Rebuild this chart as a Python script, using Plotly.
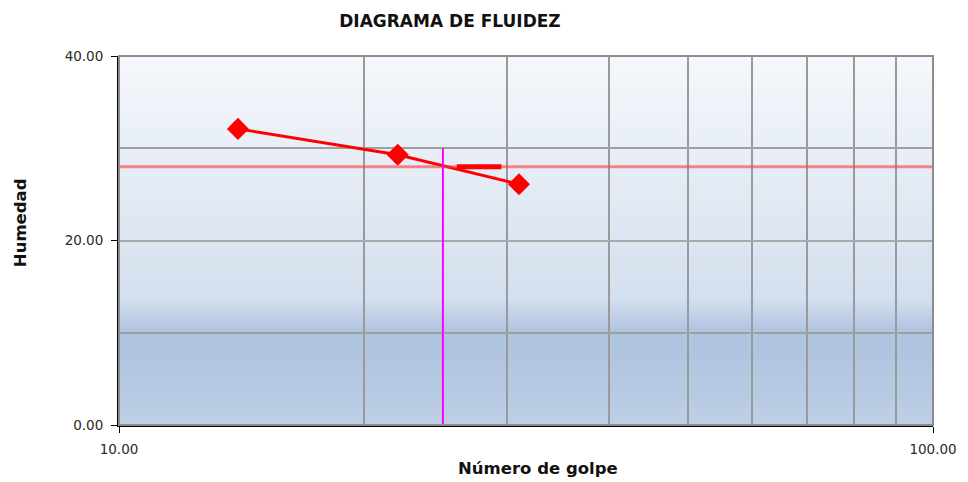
import plotly.graph_objects as go

# Ensayo de límite líquido: número de golpes vs. contenido de humedad
golpes = [14, 22, 31]
humedad = [32.1, 29.3, 26.1]

golpes_ref = 25          # golpes normalizados
humedad_ll = 28.0        # límite líquido leído a 25 golpes
tope_ref = 30.0          # altura de la línea de referencia vertical
tramo_ll = [26.0, 29.5]  # tramo resaltado sobre la línea del límite líquido

x_rango = [10, 100]
y_rango = [0, 40]
x_ticks = [10, 100]
x_ticktext = ["10.00", "100.00"]
y_ticks = [0, 20, 40]
y_ticktext = ["0.00", "20.00", "40.00"]
x_grid_menor = [20, 30, 40, 50, 60, 70, 80, 90]
y_grid_menor = [10, 30]

fig = go.Figure()

# Curva de fluidez
fig.add_trace(go.Scatter(
    x=golpes, y=humedad, mode="lines+markers",
    line=dict(color="#ff0000", width=3),
    marker=dict(symbol="diamond", size=17, color="#ff0000"),
    showlegend=False, hoverinfo="x+y",
))

# Línea horizontal del límite líquido
fig.add_trace(go.Scatter(
    x=x_rango, y=[humedad_ll, humedad_ll], mode="lines",
    line=dict(color="rgba(255,60,60,0.6)", width=3),
    showlegend=False, hoverinfo="skip",
))

# Tramo resaltado
fig.add_trace(go.Scatter(
    x=tramo_ll, y=[humedad_ll, humedad_ll], mode="lines",
    line=dict(color="#ff0000", width=5),
    showlegend=False, hoverinfo="skip",
))

# Referencia vertical a 25 golpes
fig.add_trace(go.Scatter(
    x=[golpes_ref, golpes_ref], y=[y_rango[0], tope_ref], mode="lines",
    line=dict(color="#ff00ff", width=2),
    showlegend=False, hoverinfo="skip",
))

# Fondo degradado del área de trazado
paradas = [
    (0.00, (0xbe, 0xcf, 0xe6)),
    (0.22, (0xae, 0xc3, 0xdf)),
    (0.26, (0xb0, 0xc5, 0xe0)),
    (0.34, (0xd3, 0xdf, 0xee)),
    (0.50, (0xdc, 0xe5, 0xf1)),
    (1.00, (0xf5, 0xf8, 0xfc)),
]


def color_en(f):
    for (f0, c0), (f1, c1) in zip(paradas[:-1], paradas[1:]):
        if f0 <= f <= f1:
            t = (f - f0) / (f1 - f0) if f1 > f0 else 0
            return "rgb(%d,%d,%d)" % tuple(round(a + (b - a) * t) for a, b in zip(c0, c1))
    return "rgb(%d,%d,%d)" % paradas[-1][1]


n = 80
shapes = []
for i in range(n):
    y0 = i / n
    y1 = (i + 1) / n
    shapes.append(dict(
        type="rect", xref="x domain", yref="y domain",
        x0=0, x1=1, y0=y0, y1=y1 + 0.002,
        fillcolor=color_en((y0 + y1) / 2), line=dict(width=0), layer="below",
    ))

# Marco gris superior y derecho
shapes.append(dict(
    type="rect", xref="x domain", yref="y domain", x0=0, x1=1, y0=0, y1=1,
    line=dict(color="#8c8c8c", width=2), fillcolor="rgba(0,0,0,0)", layer="above",
))

fuente_ticks = dict(family="DejaVu Sans, Verdana, sans-serif", size=13.5, color="#2a2a2a")
fuente_titulo = dict(family="DejaVu Sans, Verdana, sans-serif", size=16.5, color="#111111")

fig.update_layout(
    width=968, height=482,
    margin=dict(l=119, r=35, t=56, b=57),
    paper_bgcolor="#ffffff",
    plot_bgcolor="#e6edf6",
    shapes=shapes,
    title=dict(
        text="<b>DIAGRAMA DE FLUIDEZ</b>",
        x=0.4066, xanchor="center", xref="paper", y=0.956, yanchor="middle",
        font=dict(family="DejaVu Sans, Verdana, sans-serif", size=17, color="#111111"),
    ),
    xaxis=dict(
        type="log", range=[1, 2],
        tickvals=x_ticks, ticktext=x_ticktext,
        tickfont=fuente_ticks, ticks="outside", ticklen=6, tickcolor="#000000",
        ticklabelstandoff=5,
        showline=True, linecolor="#000000", linewidth=2,
        showgrid=False, zeroline=False,
        minor=dict(tickvals=x_grid_menor, showgrid=True, gridcolor="#9a9a9a", gridwidth=2, ticks=""),
    ),
    yaxis=dict(
        range=y_rango,
        tickvals=y_ticks, ticktext=y_ticktext,
        tickfont=fuente_ticks, ticks="outside", ticklen=6, tickcolor="#000000",
        ticklabelstandoff=5,
        showline=True, linecolor="#000000", linewidth=2,
        showgrid=True, gridcolor="#a8a8a8", gridwidth=1.5, zeroline=False,
        minor=dict(tickvals=y_grid_menor, showgrid=True, gridcolor="#a0a0a0", gridwidth=2, ticks=""),
    ),
    annotations=[
        dict(
            text="<b>Número de golpe</b>", xref="paper", yref="paper",
            x=0.515, y=-0.117, xanchor="center", yanchor="middle",
            showarrow=False, font=fuente_titulo,
        ),
        dict(
            text="<b>Humedad</b>", xref="paper", yref="paper",
            x=-0.1216, y=0.547, xanchor="center", yanchor="middle",
            textangle=-90, showarrow=False, font=fuente_titulo,
        ),
    ],
)

fig.write_html("out.html")
